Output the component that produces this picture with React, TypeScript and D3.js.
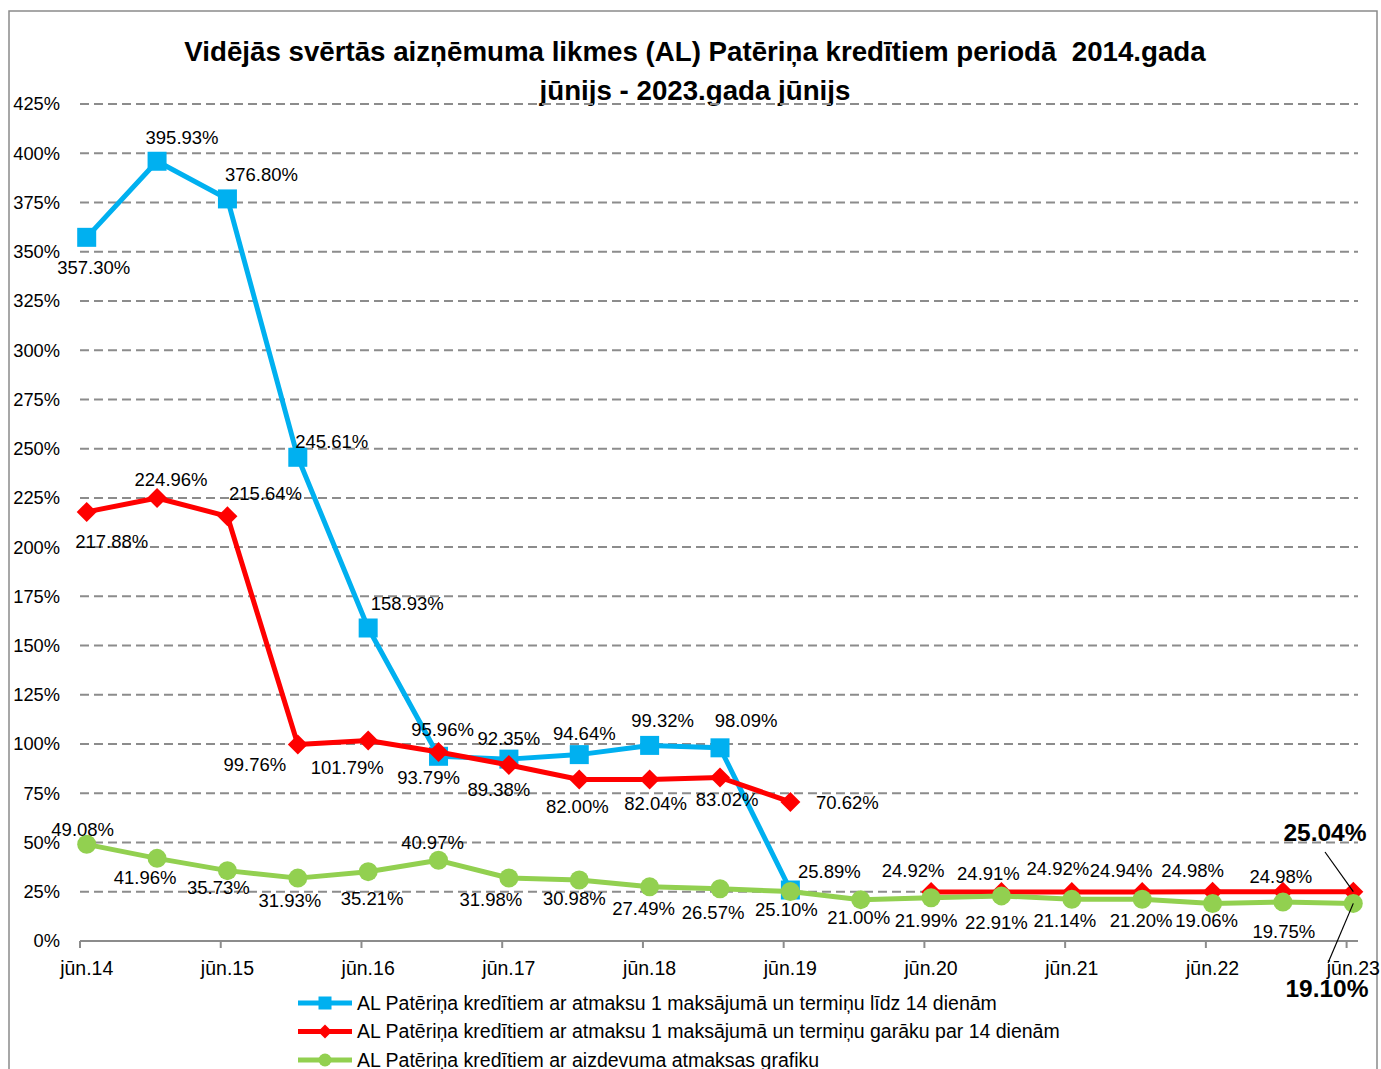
import React from "react";
import * as d3 from "d3";

const periods = [
  "jūn.14", "dec.14", "jūn.15", "dec.15", "jūn.16", "dec.16", "jūn.17", "dec.17", "jūn.18", "dec.18",
  "jūn.19", "dec.19", "jūn.20", "dec.20", "jūn.21", "dec.21", "jūn.22", "dec.22", "jūn.23",
];

const blueValues: (number | null)[] = [
  357.3, 395.93, 376.8, 245.61, 158.93, 93.79, 92.35, 94.64, 99.32, 98.09, 25.89,
  null, null, null, null, null, null, null, null,
];
const redValues: (number | null)[] = [
  217.88, 224.96, 215.64, 99.76, 101.79, 95.96, 89.38, 82.0, 82.04, 83.02, 70.62,
  null, 24.92, 24.91, 24.92, 24.94, 24.98, 24.98, 25.04,
];
const greenValues: (number | null)[] = [
  49.08, 41.96, 35.73, 31.93, 35.21, 40.97, 31.98, 30.98, 27.49, 26.57, 25.1,
  21.0, 21.99, 22.91, 21.14, 21.2, 19.06, 19.75, 19.1,
];

const yTicks = [0, 25, 50, 75, 100, 125, 150, 175, 200, 225, 250, 275, 300, 325, 350, 375, 400, 425];

const seriesNames = [
  "AL Patēriņa kredītiem ar atmaksu 1 maksājumā un termiņu līdz 14 dienām",
  "AL Patēriņa kredītiem ar atmaksu 1 maksājumā un termiņu garāku par 14 dienām",
  "AL Patēriņa kredītiem ar aizdevuma atmaksas grafiku",
];

const titleLines = [
  "Vidējās svērtās aizņēmuma likmes (AL) Patēriņa kredītiem periodā  2014.gada",
  "jūnijs - 2023.gada jūnijs",
];

// label offsets (layout only): [dx, dy] from the point to label centre
const blueLabelOffsets: [number, number][] = [
  [7, 30], [25, -24], [34, -24], [34, -16], [39, -24], [-10, 21], [0, -21], [5, -21], [13, -25], [26, -27], [39, -18],
];
const redLabelOffsets: ([number, number] | null)[] = [
  [25, 30], [14, -18], [38, -23], [-43, 20], [-21, 27], [4, -22], [-10, 25], [-2, 27], [6, 24], [7, 22], [57, 1],
  null, [-18, -21], [-13, -18], [-14, -23], [-21, -21], [-20, -21], [-2, -15], null,
];
const greenLabelOffsets: ([number, number] | null)[] = [
  [-4, -15], [-12, 19], [-9, 17], [-8, 22], [4, 27], [-6, -18], [-18, 22], [-5, 19], [-6, 22], [-7, 24], [-4, 18],
  [-2, 18], [-5, 23], [-5, 27], [-7, 21], [-1, 21], [-6, 17], [1, 29], null,
];

const W = 1381;
const H = 1069;
const FONT = "'Liberation Sans', Arial, sans-serif";
const BLUE = "#00B0F0";
const RED = "#FF0000";
const GREEN = "#92D050";

const fmt = (v: number) => v.toFixed(2) + "%";

export default function App() {
  const x = d3.scaleLinear().domain([0, periods.length - 1]).range([86.7, 1353.3]);
  const y = d3.scaleLinear().domain([0, 425]).range([941, 104]);
  const tickShift = 6.7;
  const plotLeft = 80;
  const plotRight = 1358;

  const line = d3
    .line<number | null>()
    .defined((d) => d != null)
    .x((_, i) => x(i))
    .y((d) => y(d as number));

  const pts = (vals: (number | null)[]) =>
    vals.map((v, i) => ({ v, i })).filter((p) => p.v != null) as { v: number; i: number }[];

  const lastIdx = periods.length - 1;
  const redLast = redValues[lastIdx] as number;
  const greenLast = greenValues[lastIdx] as number;
  const LBL = 18.5;

  return (
    <svg
      width={W}
      height={H}
      style={{ position: "absolute", left: 0, top: 0, background: "#fff" }}
      fontFamily={FONT}
    >
      <rect x={9} y={11} width={1368} height={1080} fill="#fff" stroke="#8a8a8a" strokeWidth={1.5} />
      {/* title */}
      {titleLines.map((t, k) => (
        <text
          key={k}
          x={695}
          y={61 + k * 39}
          textAnchor="middle"
          fontSize={27.7}
          fontWeight="bold"
          fill="#000"
          style={{ whiteSpace: "pre" }}
        >
          {t}
        </text>
      ))}

      {/* gridlines */}
      {yTicks.map((t) => (
        <g key={t}>
          {t > 0 && (
            <line
              x1={plotLeft}
              x2={plotRight}
              y1={y(t)}
              y2={y(t)}
              stroke="#8c8c8c"
              strokeWidth={2}
              strokeDasharray="9,5"
            />
          )}
          <text x={60} y={y(t)} dy="0.35em" textAnchor="end" fontSize={18.3} fill="#000">
            {t}%
          </text>
        </g>
      ))}
      {/* x axis */}
      <line x1={plotLeft} x2={plotRight} y1={y(0)} y2={y(0)} stroke="#8c8c8c" strokeWidth={2} />
      {periods.map((p, i) =>
        i % 2 === 0 ? (
          <g key={p}>
            <line
              x1={x(i) - tickShift}
              x2={x(i) - tickShift}
              y1={y(0)}
              y2={y(0) + 7}
              stroke="#8c8c8c"
              strokeWidth={2}
            />
            <text x={x(i)} y={975} textAnchor="middle" fontSize={19.5} fill="#000">
              {p}
            </text>
          </g>
        ) : null
      )}

      {/* lines */}
      <path d={line(blueValues) || ""} fill="none" stroke={BLUE} strokeWidth={5} strokeLinejoin="round" />
      {pts(blueValues).map((p) => (
        <rect key={p.i} x={x(p.i) - 9.5} y={y(p.v) - 9.5} width={19} height={19} fill={BLUE} />
      ))}
      <path d={line(redValues) || ""} fill="none" stroke={RED} strokeWidth={5} strokeLinejoin="round" />
      {pts(redValues).map((p) => (
        <path
          key={p.i}
          d={`M${x(p.i)},${y(p.v) - 10}L${x(p.i) + 10},${y(p.v)}L${x(p.i)},${y(p.v) + 10}L${x(p.i) - 10},${y(p.v)}Z`}
          fill={RED}
        />
      ))}
      <path d={line(greenValues) || ""} fill="none" stroke={GREEN} strokeWidth={5} strokeLinejoin="round" />
      {pts(greenValues).map((p) => (
        <circle key={p.i} cx={x(p.i)} cy={y(p.v)} r={9.5} fill={GREEN} />
      ))}

      {/* data labels */}
      {pts(blueValues).map((p) => {
        const o = blueLabelOffsets[p.i];
        return (
          <text key={"b" + p.i} x={x(p.i) + o[0]} y={y(p.v) + o[1]} dy="0.35em" textAnchor="middle" fontSize={LBL}>
            {fmt(p.v)}
          </text>
        );
      })}
      {pts(redValues).map((p) => {
        const o = redLabelOffsets[p.i];
        if (!o) return null;
        return (
          <text key={"r" + p.i} x={x(p.i) + o[0]} y={y(p.v) + o[1]} dy="0.35em" textAnchor="middle" fontSize={LBL}>
            {fmt(p.v)}
          </text>
        );
      })}
      {pts(greenValues).map((p) => {
        const o = greenLabelOffsets[p.i];
        if (!o) return null;
        return (
          <text key={"g" + p.i} x={x(p.i) + o[0]} y={y(p.v) + o[1]} dy="0.35em" textAnchor="middle" fontSize={LBL}>
            {fmt(p.v)}
          </text>
        );
      })}

      {/* highlighted last values with leader lines */}
      <line x1={1325} y1={852} x2={x(lastIdx)} y2={y(redLast)} stroke="#000" strokeWidth={1.2} />
      <text x={1325} y={y(redLast) - 59} dy="0.35em" textAnchor="middle" fontSize={24.5} fontWeight="bold">
        {fmt(redLast)}
      </text>
      <line x1={1328} y1={963} x2={x(lastIdx)} y2={y(greenLast)} stroke="#000" strokeWidth={1.2} />
      <text x={1327} y={y(greenLast) + 85} dy="0.35em" textAnchor="middle" fontSize={24.5} fontWeight="bold">
        {fmt(greenLast)}
      </text>

      {/* legend */}
      {seriesNames.map((name, k) => {
        const ly = 1003 + k * 28.5;
        const color = [BLUE, RED, GREEN][k];
        return (
          <g key={name}>
            <line x1={298} x2={352} y1={ly} y2={ly} stroke={color} strokeWidth={5} />
            {k === 0 && <rect x={325 - 6.5} y={ly - 6.5} width={13} height={13} fill={color} />}
            {k === 1 && (
              <path d={`M325,${ly - 7}L332,${ly}L325,${ly + 7}L318,${ly}Z`} fill={color} />
            )}
            {k === 2 && <circle cx={325} cy={ly} r={6.5} fill={color} />}
            <text x={357} y={ly} dy="0.35em" fontSize={19.5}>
              {name}
            </text>
          </g>
        );
      })}
    </svg>
  );
}
